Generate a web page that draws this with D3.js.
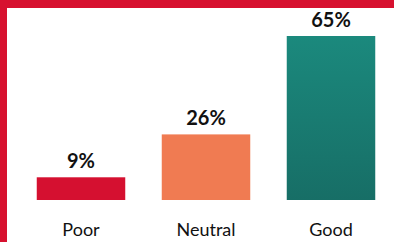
<!DOCTYPE html>
<html><head><meta charset="utf-8">
<script src="https://cdn.jsdelivr.net/npm/d3@7"></script>
<style>html,body{margin:0;padding:0;background:#fff;}svg{display:block;}</style>
</head><body>
<script>
const categories = ["Poor", "Neutral", "Good"];
const values = [9, 26, 65];
const labels = ["9%", "26%", "65%"];
const colors = ["#d51030", "#f07b52", "url(#goodGrad)"];

const W = 394, H = 242;
const svg = d3.select("body").append("svg").attr("width", W).attr("height", H);
const defs = svg.append("defs");
const g = defs.append("linearGradient").attr("id", "goodGrad").attr("x1", 0).attr("y1", 0).attr("x2", 0).attr("y2", 1);
g.append("stop").attr("offset", "0%").attr("stop-color", "#1b897d");
g.append("stop").attr("offset", "100%").attr("stop-color", "#176e66");

svg.append("rect").attr("width", W).attr("height", H).attr("fill", "#d7112f");
svg.append("rect").attr("x", 7).attr("y", 8).attr("width", W - 7).attr("height", H - 8).attr("fill", "#fff");

const x = d3.scaleBand().domain(categories).range([18.5, 393.5]).paddingInner(0.292).paddingOuter(0.146);
const y = d3.scaleLinear().domain([0, 65]).range([200, 36]);

svg.selectAll("rect.bar").data(values).enter().append("rect").attr("class", "bar")
  .attr("x", (d, i) => x(categories[i]))
  .attr("width", x.bandwidth())
  .attr("y", d => y(d))
  .attr("height", d => y(0) - y(d))
  .attr("fill", (d, i) => colors[i]);

svg.selectAll("text.val").data(values).enter().append("text").attr("class", "val")
  .attr("x", (d, i) => x(categories[i]) + x.bandwidth() / 2)
  .attr("y", d => y(d) - 9.3)
  .attr("text-anchor", "middle")
  .attr("font-family", "Lato, sans-serif")
  .attr("font-weight", "bold")
  .attr("font-size", 20)
  .attr("fill", "#111")
  .text((d, i) => labels[i]);

const axis = d3.axisBottom(x).tickSize(0).tickPadding(0);
const ax = svg.append("g").attr("transform", "translate(0,222)").call(axis);
ax.select(".domain").remove();
ax.selectAll("text").attr("dy", null).attr("y", 14).attr("font-family", "Lato, sans-serif").attr("font-size", 18).attr("fill", "#111");
</script>
</body></html>
